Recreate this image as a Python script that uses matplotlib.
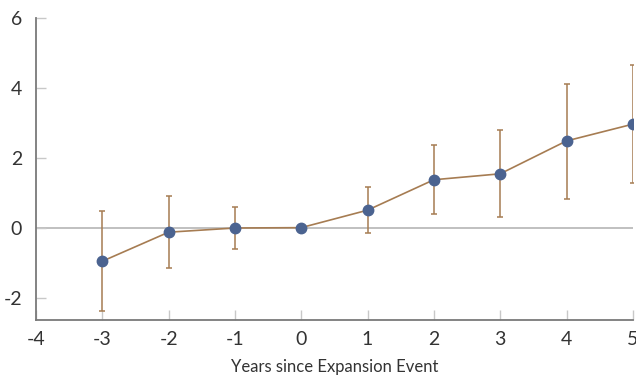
import matplotlib
matplotlib.use("Agg")
import matplotlib.pyplot as plt

years = [-3, -2, -1, 0, 1, 2, 3, 4, 5]
estimate = [-0.96, -0.13, -0.01, 0.0, 0.50, 1.37, 1.54, 2.48, 2.96]
ci_upper = [0.49, 0.91, 0.59, 0.0, 1.16, 2.35, 2.80, 4.12, 4.64]
ci_lower = [-2.38, -1.16, -0.61, 0.0, -0.14, 0.40, 0.30, 0.83, 1.28]
x_ticks = [-4, -3, -2, -1, 0, 1, 2, 3, 4, 5]
y_ticks = [-2, 0, 2, 4, 6]

plt.rcParams['font.family'] = ['Lato', 'DejaVu Sans']
plt.rcParams['font.weight'] = 'normal'

fig = plt.figure(figsize=(6.36, 3.8), dpi=100)
ax = fig.add_axes([0.0566, 0.158, 0.9384, 0.795])

line_col = '#a67c52'
dot_col = '#4b6390'

ax.axhline(0, color='#b5b5b5', lw=1.2, zorder=1)
lower_err = [e - l for e, l in zip(estimate, ci_lower)]
upper_err = [u - e for e, u in zip(estimate, ci_upper)]
ax.errorbar(years, estimate, yerr=[lower_err, upper_err], fmt='none',
            ecolor=line_col, elinewidth=1.1, capsize=2.5, capthick=1.1, zorder=2)
ax.plot(years, estimate, color=line_col, lw=1.2, zorder=3)
ax.plot(years, estimate, 'o', color=dot_col, markersize=7.5, zorder=4)

ax.set_xlim(-4, 5)
ax.set_ylim(-2.64, 6)
ax.set_xticks(x_ticks)
ax.set_yticks(y_ticks)
ax.set_xticklabels([str(v) for v in x_ticks])
ax.set_yticklabels([str(v) for v in y_ticks])

for s in ['top', 'right']:
    ax.spines[s].set_visible(False)
for s in ['left', 'bottom']:
    ax.spines[s].set_color('#7a7a7a')
    ax.spines[s].set_linewidth(1.3)

ax.tick_params(axis='both', direction='in', length=7, width=1, color='#c8c8c8')
for lab in ax.get_xticklabels() + ax.get_yticklabels():
    lab.set_color('#333333')
    lab.set_fontsize(14)
    lab.set_fontweight('normal')
ax.tick_params(axis='y', pad=10)
ax.tick_params(axis='x', pad=8)

ax.set_xlabel('Years since Expansion Event', fontsize=12, color='#333333',
              fontweight='normal', labelpad=8)

fig.savefig('out.png', dpi=100)
